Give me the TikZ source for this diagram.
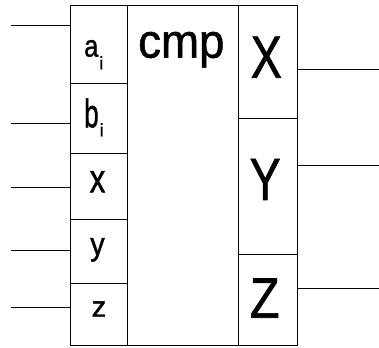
\documentclass[tikz,border=0pt]{standalone}
\usepackage{fontspec}
\setmainfont{Liberation Sans}
\newfontfamily\cellfont[FakeBold=1.2]{Liberation Sans}
% text at a given size, squeezed horizontally
\newcommand\sqtext[3]{\scalebox{#2}[1]{\cellfont\fontsize{#1}{#1}\selectfont #3}}
% lowered small index letter
\newcommand\subidx[2]{\raisebox{#1}{\cellfont\fontsize{#2}{#2}\selectfont i}}
\begin{document}
\begin{tikzpicture}[x=1pt,y=1pt,
  cell/.style={draw, line width=0.9pt, rectangle, inner sep=0pt, outer sep=0pt, anchor=north west},
  lbl/.style={inner sep=0pt, anchor=base},
  wire/.style={line width=0.9pt}]
\useasboundingbox (0,0) rectangle (379,347);

% input column
\node[cell, minimum width=57, minimum height=78]   (ca) at (70,342) {};
\node[cell, minimum width=57, minimum height=70.7] (cb) at (70,264) {};
\node[cell, minimum width=57, minimum height=66]   (cx) at (70,193.3) {};
\node[cell, minimum width=57, minimum height=63.3] (cy) at (70,127.3) {};
\node[cell, minimum width=57, minimum height=62]   (cz) at (70,64) {};
% comparator body
\node[cell, minimum width=111, minimum height=340] (cmid) at (127,342) {};
% output column
\node[cell, minimum width=59, minimum height=113.3] (cX) at (238,342) {};
\node[cell, minimum width=59, minimum height=135.7] (cY) at (238,228.7) {};
\node[cell, minimum width=59, minimum height=91]    (cZ) at (238,93) {};

% labels
\node[lbl] (tcmp) at (181.3,289.3) {\sqtext{48}{0.95}{cmp}};
\node[lbl] (tX) at (266.3,269.3) {\sqtext{59.6}{0.78}{X}};
\node[lbl] (tY) at (265.2,147) {\sqtext{59.6}{0.78}{Y}};
\node[lbl] (tZ) at (264.7,29.3) {\sqtext{57}{0.85}{Z}};
\node[lbl, anchor=base west] (ta) at (84,290.3) {\sqtext{31}{0.82}{a}\hspace{1pt}\subidx{-12.6pt}{18}};
\node[lbl, anchor=base west] (tb) at (84,219.7) {\sqtext{40}{0.65}{b}\hspace{1pt}\subidx{-9pt}{18}};
\node[lbl] (tx) at (97.5,154.7) {\sqtext{40}{0.78}{x}};
\node[lbl] (ty) at (97.5,92) {\sqtext{32}{0.9}{y}};
\node[lbl] (tz) at (99,30.3) {\sqtext{29}{1}{z}};

% input wires
\coordinate (ia) at (11,322);
\coordinate (ib) at (11,224);
\coordinate (ix) at (11,159.7);
\coordinate (iy) at (11,97);
\coordinate (iz) at (11,39.3);
\draw[wire] (ia) -- (ia -| ca.west);
\draw[wire] (ib) -- (ib -| cb.west);
\draw[wire] (ix) -- (ix -| cx.west);
\draw[wire] (iy) -- (iy -| cy.west);
\draw[wire] (iz) -- (iz -| cz.west);

% output wires
\coordinate (oX) at (379,278);
\coordinate (oY) at (379,181.3);
\coordinate (oZ) at (379,58.7);
\draw[wire] (oX -| cX.east) -- (oX);
\draw[wire] (oY -| cY.east) -- (oY);
\draw[wire] (oZ -| cZ.east) -- (oZ);
\end{tikzpicture}
\end{document}
